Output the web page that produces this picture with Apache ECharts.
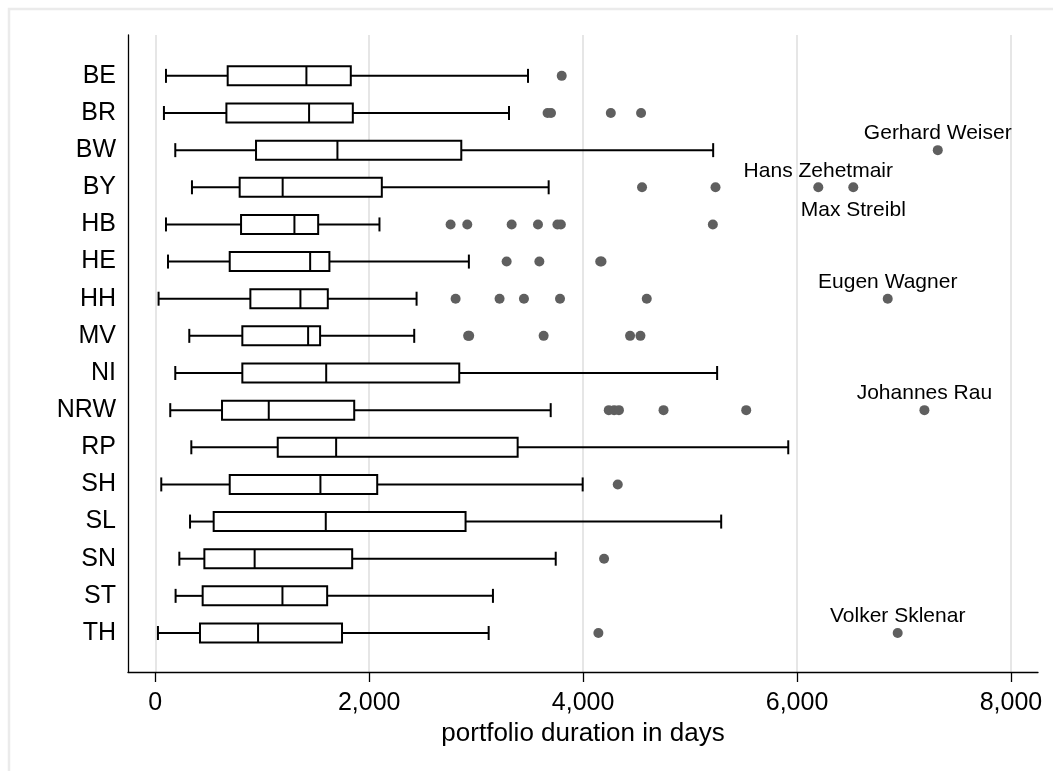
<!DOCTYPE html>
<html>
<head>
<meta charset="utf-8">
<script src="https://cdn.jsdelivr.net/npm/echarts@6/dist/echarts.min.js"></script>
<style>
html,body{margin:0;padding:0;background:#fff;}
#chart{width:1053px;height:771px;}
</style>
</head>
<body>
<div id="chart"></div>
<script>
const categories = ['BE','BR','BW','BY','HB','HE','HH','MV','NI','NRW','RP','SH','SL','SN','ST','TH'];
const whiskerLow  = [100, 81, 187, 343, 100, 119, 31, 318, 187, 140, 337, 56, 325, 225, 190, 25];
const q1          = [677, 665, 942, 789, 802, 696, 889, 814, 814, 624, 1145, 696, 546, 459, 443, 418];
const median      = [1413, 1438, 1703, 1191, 1301, 1448, 1357, 1429, 1598, 1061, 1691, 1544, 1594, 929, 1189, 961];
const q3          = [1828, 1847, 2861, 2118, 1523, 1628, 1613, 1541, 2842, 1860, 3388, 2075, 2901, 1841, 1607, 1746];
const whiskerHigh = [3485, 3307, 5216, 3678, 2096, 2932, 2443, 2421, 5253, 3697, 5918, 3996, 5291, 3744, 3157, 3117];

const outliers = [
  [3800,'BE'],
  [3668,'BR'],[3700,'BR'],[4259,'BR'],[4542,'BR'],
  [4551,'BY'],[5238,'BY'],
  [2761,'HB'],[2917,'HB'],[3332,'HB'],[3578,'HB'],[3760,'HB'],[3792,'HB'],[5213,'HB'],
  [3285,'HE'],[3591,'HE'],[4160,'HE'],[4172,'HE'],
  [2808,'HH'],[3219,'HH'],[3447,'HH'],[3784,'HH'],[4595,'HH'],
  [2925,'MV'],[2935,'MV'],[3631,'MV'],[4439,'MV'],[4536,'MV'],
  [4240,'NRW'],[4290,'NRW'],[4335,'NRW'],[4752,'NRW'],[5525,'NRW'],
  [4324,'SH'],
  [4196,'SN'],
  [4143,'TH']
];
const namedOutliers = [
  [7316,'BW','Gerhard Weiser','above'],
  [6199,'BY','Hans Zehetmair','above'],
  [6526,'BY','Max Streibl','below'],
  [6848,'HH','Eugen Wagner','above'],
  [7191,'NRW','Johannes Rau','above'],
  [6941,'TH','Volker Sklenar','above']
];
const xTicks = [0, 2000, 4000, 6000, 8000];

const FONT = '"Liberation Sans", Arial, sans-serif';
const boxData = categories.map((c, i) => [i, whiskerLow[i], q1[i], median[i], q3[i], whiskerHigh[i]]);
const outData = outliers.map(o => [o[0], categories.indexOf(o[1])]);
const namedData = namedOutliers.map(o => ({
  name: o[2],
  value: [o[0], categories.indexOf(o[1])],
  label: {
    position: o[3] === 'above' ? 'top' : 'bottom',
    distance: o[3] === 'above' ? 1 : 7
  }
}));

const chart = echarts.init(document.getElementById('chart'), null, {renderer: 'canvas'});
chart.setOption({
  backgroundColor: '#fff',
  animation: false,
  textStyle: {color: '#000', fontFamily: FONT},
  graphic: [{
    type: 'polyline',
    shape: {points: [[9, 771], [9, 9], [1053, 9]]},
    style: {stroke: '#ebebeb', lineWidth: 2.5, fill: null},
    silent: true
  }],
  grid: {left: 128, right: 15, top: 35, bottom: 99, containLabel: false},
  xAxis: {
    type: 'value',
    min: -255,
    max: 8253,
    name: 'portfolio duration in days',
    nameLocation: 'middle',
    nameGap: 46,
    nameTextStyle: {color: '#000', fontSize: 26, fontFamily: FONT},
    axisLine: {show: true, onZero: false, lineStyle: {color: '#000', width: 1.3}},
    axisTick: {show: true, customValues: xTicks, length: 10, lineStyle: {color: '#000', width: 1.3}},
    axisLabel: {
      customValues: xTicks,
      margin: 19,
      color: '#000',
      fontSize: 25,
      fontFamily: FONT,
      formatter: v => v.toLocaleString('en-US')
    },
    splitLine: {show: true, lineStyle: {color: '#e6e6e6', width: 2}}
  },
  yAxis: {
    type: 'value',
    inverse: true,
    min: -1.1,
    max: 16.05,
    axisLine: {show: true, onZero: false, lineStyle: {color: '#000', width: 1.3}},
    axisTick: {show: false},
    splitLine: {show: false},
    axisLabel: {
      customValues: categories.map((c, i) => i),
      margin: 12,
      color: '#000',
      fontSize: 25,
      fontFamily: FONT,
      formatter: v => categories[Math.round(v)] || ''
    }
  },
  series: [
    {
      type: 'custom',
      data: boxData,
      encode: {x: [1, 2, 3, 4, 5], y: 0},
      renderItem: function (params, api) {
        const idx = api.value(0);
        const y = api.coord([0, idx])[1];
        const px = k => api.coord([api.value(k), idx])[0];
        const xl = px(1), xq1 = px(2), xm = px(3), xq3 = px(4), xh = px(5);
        const bh = 9.5, ch = 7;
        const ls = {stroke: '#000', lineWidth: 2, fill: null};
        return {
          type: 'group',
          children: [
            {type: 'line', shape: {x1: xl, y1: y, x2: xq1, y2: y}, style: ls},
            {type: 'line', shape: {x1: xq3, y1: y, x2: xh, y2: y}, style: ls},
            {type: 'line', shape: {x1: xl, y1: y - ch, x2: xl, y2: y + ch}, style: ls},
            {type: 'line', shape: {x1: xh, y1: y - ch, x2: xh, y2: y + ch}, style: ls},
            {type: 'rect', shape: {x: xq1, y: y - bh, width: xq3 - xq1, height: 2 * bh}, style: {stroke: '#000', lineWidth: 2, fill: '#fff'}},
            {type: 'line', shape: {x1: xm, y1: y - bh, x2: xm, y2: y + bh}, style: ls}
          ]
        };
      },
      z: 2
    },
    {
      type: 'scatter',
      data: outData,
      symbol: 'circle',
      symbolSize: 10,
      itemStyle: {color: '#5f5f5f', opacity: 1},
      z: 3
    },
    {
      type: 'scatter',
      data: namedData,
      symbol: 'circle',
      symbolSize: 10,
      itemStyle: {color: '#5f5f5f', opacity: 1},
      label: {
        show: true,
        formatter: p => p.name,
        color: '#000',
        opacity: 1,
        textBorderWidth: 0,
        fontSize: 21,
        fontFamily: FONT
      },
      z: 3
    }
  ]
});
</script>
</body>
</html>
